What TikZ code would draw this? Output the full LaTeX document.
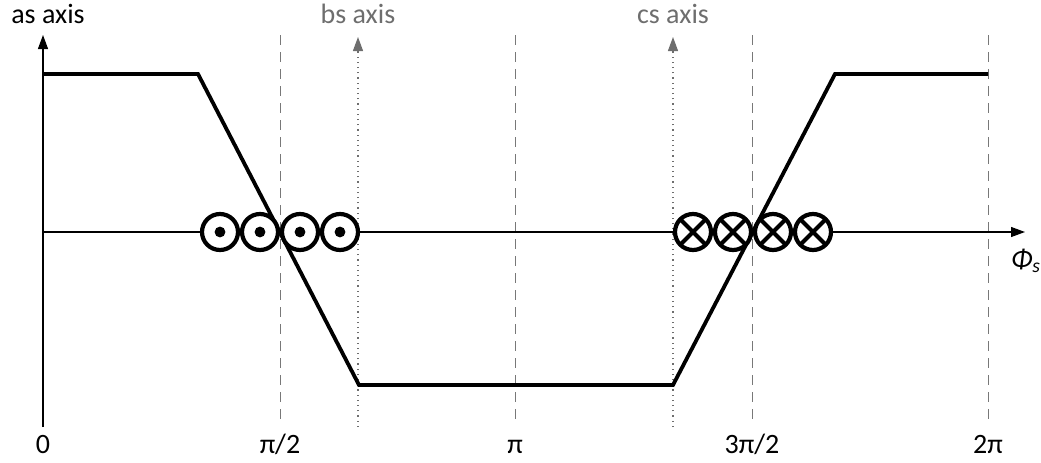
\documentclass[tikz,border=0pt]{standalone}
\usepackage{fontspec}
\setmainfont{Carlito}
\usetikzlibrary{arrows.meta}
\definecolor{fasecinza}{RGB}{110,110,110}
\definecolor{gradecinza}{RGB}{120,120,120}

\begin{document}
\begin{tikzpicture}[x=0.5pt, y=-0.5pt, font=\fontsize{14}{17}\selectfont,
    seta/.style={line width=0.6pt, -{Triangle[length=7pt, width=5pt]}},
    grade/.style={gradecinza, line width=0.5pt, dash pattern=on 5pt off 3.5pt},
    fase/.style={fasecinza, line width=0.6pt, dotted, -{Triangle[length=7pt, width=5pt]}},
    condutor/.style={circle, draw, fill=white, line width=2.1pt, minimum size=18pt, inner sep=0pt, outer sep=0pt}]
    \useasboundingbox (0,0) rectangle (1041,462);
    % Linhas de grade
    \node[anchor=base] (t0) at (43,453) {0};
    \foreach \gx/\glab [count=\i] in {280/{π/2}, 515/π, 752/{3π/2}, 988/2π} {
        \coordinate (g\i) at (\gx,35);
        \coordinate (h\i) at (\gx,425);
        \draw[grade] (g\i) -- (h\i);
        \node[anchor=base] (t\i) at (\gx,453) {\glab};
    }
    % Eixos de fase
    \foreach \fx/\fnome in {358/bs, 673/cs} {
        \coordinate (\fnome top) at (\fx,37);
        \coordinate (\fnome bot) at (\fx,427);
        \draw[fase] (\fnome bot) -- (\fnome top);
        \node[fasecinza, anchor=base] (\fnome lab) at (\fx,23) {\fnome{} axis};
    }
    % Eixos
    \coordinate (o) at (43,232);
    \coordinate (ybot) at (43,427);
    \coordinate (ytop) at (43,35);
    \coordinate (xend) at (1025,232);
    \draw[seta] (ybot) -- (ytop);
    \draw[seta] (o) -- (xend);
    \node[anchor=base] (aslab) at (48,23) {as axis};
    \node[anchor=base west] (phi) at (1004,268) {\textit{Φ}\textsubscript{\textit{s}}};
    % Curva
    \draw[line width=1.9pt, line join=miter] (43,74) -- (198,74) -- (359,385)
        -- (673,385) -- (835,74) -- (988,74);
    % Condutores
    \foreach \cx [count=\i] in {220,260,300,340} {
        \node[condutor] (p\i) at (\cx,232) {};
        \fill (p\i.center) circle (2.7pt);
    }
    \foreach \cx [count=\i] in {693,733,773,813} {
        \node[condutor] (c\i) at (\cx,232) {};
        \draw[line width=2.1pt] (c\i.45) -- (c\i.225) (c\i.135) -- (c\i.315);
    }
\end{tikzpicture}
\end{document}
